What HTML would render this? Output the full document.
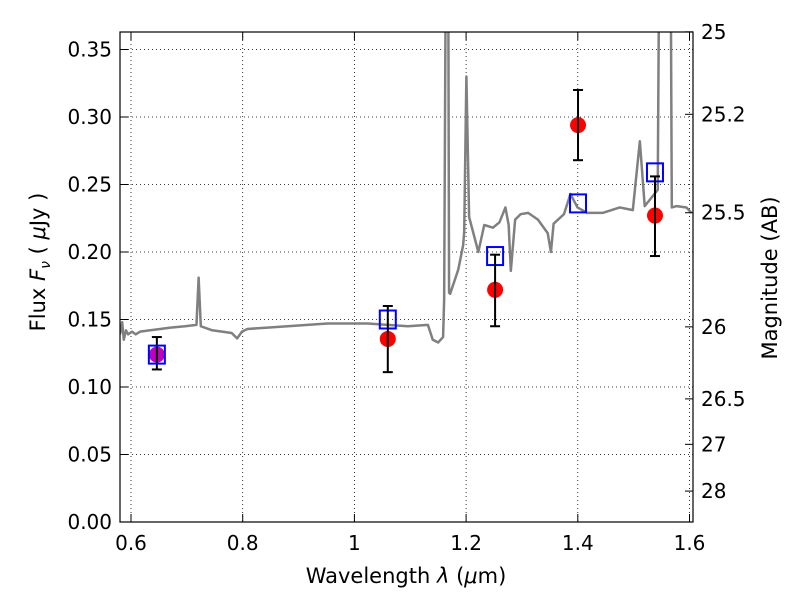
<!DOCTYPE html>
<html><head><meta charset="utf-8"><style>
body{margin:0;background:#fff}
svg text{font-family:"DejaVu Sans","Liberation Sans",sans-serif;fill:#000}
</style></head><body>
<svg id="c" width="800" height="600"></svg>
<script>
const specWave=[0.5803,0.5842,0.5871,0.5910,0.5949,0.6017,0.6085,0.6163,0.6347,0.6522,0.6706,0.6968,0.7172,0.7211,0.7250,0.7453,0.7803,0.7900,0.7987,0.8084,0.8443,0.8802,0.9161,0.9521,0.9880,1.0239,1.0598,1.0957,1.1316,1.1403,1.1500,1.1588,1.1607,1.1646,1.1675,1.1695,1.1714,1.1860,1.1947,1.1966,1.2005,1.2054,1.2219,1.2325,1.2481,1.2597,1.2704,1.2762,1.2801,1.2878,1.2975,1.3111,1.3286,1.3461,1.3519,1.3567,1.3752,1.3868,1.3994,1.4169,1.4451,1.4752,1.4985,1.5111,1.5198,1.5431,1.5470,1.5654,1.5683,1.5771,1.5945,1.6033];
const specFlux=[0.139,0.148,0.135,0.142,0.139,0.141,0.139,0.141,0.142,0.143,0.144,0.145,0.146,0.181,0.145,0.142,0.140,0.136,0.141,0.143,0.144,0.145,0.146,0.147,0.147,0.147,0.146,0.145,0.146,0.135,0.133,0.137,0.165,0.5,0.5,0.17,0.169,0.187,0.205,0.215,0.33,0.226,0.2,0.22,0.218,0.222,0.233,0.22,0.186,0.224,0.228,0.229,0.224,0.214,0.2,0.221,0.228,0.243,0.233,0.229,0.229,0.233,0.231,0.282,0.234,0.246,0.5,0.5,0.233,0.234,0.233,0.229];
const obsWave=[1.0598,1.2519,1.4004,1.5382];
const obsFlux=[0.1356,0.172,0.294,0.227];
const obsHi=[0.160,0.198,0.320,0.256];
const obsLo=[0.111,0.145,0.268,0.197];
const modWave=[0.6463,1.0598,1.2519,1.4004,1.5382];
const modFlux=[0.124,0.150,0.197,0.236,0.259];
const hstWave=[0.6463];const hstFlux=[0.124];const hstHi=[0.137];const hstLo=[0.113];
const xTicks=[0.6,0.8,1.0,1.2,1.4,1.6];const xTickLabels=["0.6","0.8","1","1.2","1.4","1.6"];
const yTicks=[0,0.05,0.1,0.15,0.2,0.25,0.3,0.35];
const magTicks=[25,25.2,25.5,26,26.5,27,28];const magLabels=["25","25.2","25.5","26","26.5","27","28"];

const L=120,R=693,T=32,B=522;
const X=v=>131+(v-0.6)*558.5;
const Y=v=>522-v*1350;
const svg=document.getElementById('c');const NS='http://www.w3.org/2000/svg';
function el(t,a,p){const e=document.createElementNS(NS,t);for(const k in a)e.setAttribute(k,a[k]);(p||svg).appendChild(e);return e;}
const defs=el('defs',{});const cp=el('clipPath',{id:'cl'},defs);el('rect',{x:L,y:T,width:R-L,height:B-T},cp);
const grid=el('g',{});
xTicks.forEach(v=>el('line',{x1:X(v),x2:X(v),y1:T,y2:B,stroke:'#000','stroke-width':0.8,'stroke-dasharray':'1,3'},grid));
yTicks.forEach(v=>el('line',{x1:L,x2:R,y1:Y(v),y2:Y(v),stroke:'#000','stroke-width':0.8,'stroke-dasharray':'1,3'},grid));
const pts=specWave.map((w,i)=>X(w)+','+Y(specFlux[i])).join(' ');
const sp=el('polyline',{points:pts,fill:'none',stroke:'#808080','stroke-width':2.5,'clip-path':'url(#cl)','stroke-linejoin':'round'});

function errbar(x,hi,lo,name){const g=el('g',{});
el('line',{x1:X(x),x2:X(x),y1:Y(hi),y2:Y(lo),stroke:'#000','stroke-width':2},g);
el('line',{x1:X(x)-5,x2:X(x)+5,y1:Y(hi),y2:Y(hi),stroke:'#000','stroke-width':2},g);
el('line',{x1:X(x)-5,x2:X(x)+5,y1:Y(lo),y2:Y(lo),stroke:'#000','stroke-width':2},g);}
hstWave.forEach((w,i)=>{const c=el('circle',{cx:X(w),cy:Y(hstFlux[i]),r:8,fill:'#bf00bf'});errbar(w,hstHi[i],hstLo[i],'hst-error-bar');});
obsWave.forEach((w,i)=>{const c=el('circle',{cx:X(w),cy:Y(obsFlux[i]),r:8,fill:'#ff0000'});});
modWave.forEach((w,i)=>{const r=el('rect',{x:X(w)-8,y:Y(modFlux[i])-9,width:16,height:18,fill:'none',stroke:'#0000ff','stroke-width':2});});
obsWave.forEach((w,i)=>errbar(w,obsHi[i],obsLo[i],'observed-error-bar'));
const fr=el('rect',{x:L,y:T,width:R-L,height:B-T,fill:'none',stroke:'#000','stroke-width':1.2});
xTicks.forEach((v,i)=>{el('line',{x1:X(v),x2:X(v),y1:B,y2:B-8,stroke:'#000'});el('line',{x1:X(v),x2:X(v),y1:T,y2:T+8,stroke:'#000'});
const t=el('text',{x:X(v),y:B+28,'text-anchor':'middle','font-size':20});t.textContent=xTickLabels[i];});
yTicks.forEach(v=>{el('line',{x1:L,x2:L+8,y1:Y(v),y2:Y(v),stroke:'#000'});
const t=el('text',{x:L-8,y:Y(v)+7,'text-anchor':'end','font-size':20});t.textContent=v.toFixed(2);});
magTicks.forEach((m,i)=>{const y=Y(Math.pow(10,(23.9-m)/2.5));el('line',{x1:R,x2:R-8,y1:y,y2:y,stroke:'#000'});
const t=el('text',{x:R+8,y:y+7,'font-size':20});t.textContent=magLabels[i];});
let t=el('text',{x:406,y:583,'text-anchor':'middle','font-size':21});t.innerHTML='Wavelength  <tspan font-style="italic">λ</tspan> (<tspan font-style="italic">μ</tspan>m)';
t=el('text',{x:0,y:0,'text-anchor':'middle','font-size':21,transform:'translate(45,262) rotate(-90)'});t.innerHTML='Flux  <tspan font-style="italic">F</tspan><tspan font-style="italic" font-size="14" dy="5">ν</tspan><tspan dy="-5">  ( </tspan><tspan font-style="italic">μ</tspan>Jy )';
t=el('text',{x:0,y:0,'text-anchor':'middle','font-size':21,transform:'translate(777,278) rotate(-90)'});t.textContent='Magnitude (AB)';
</script>
</body></html>
